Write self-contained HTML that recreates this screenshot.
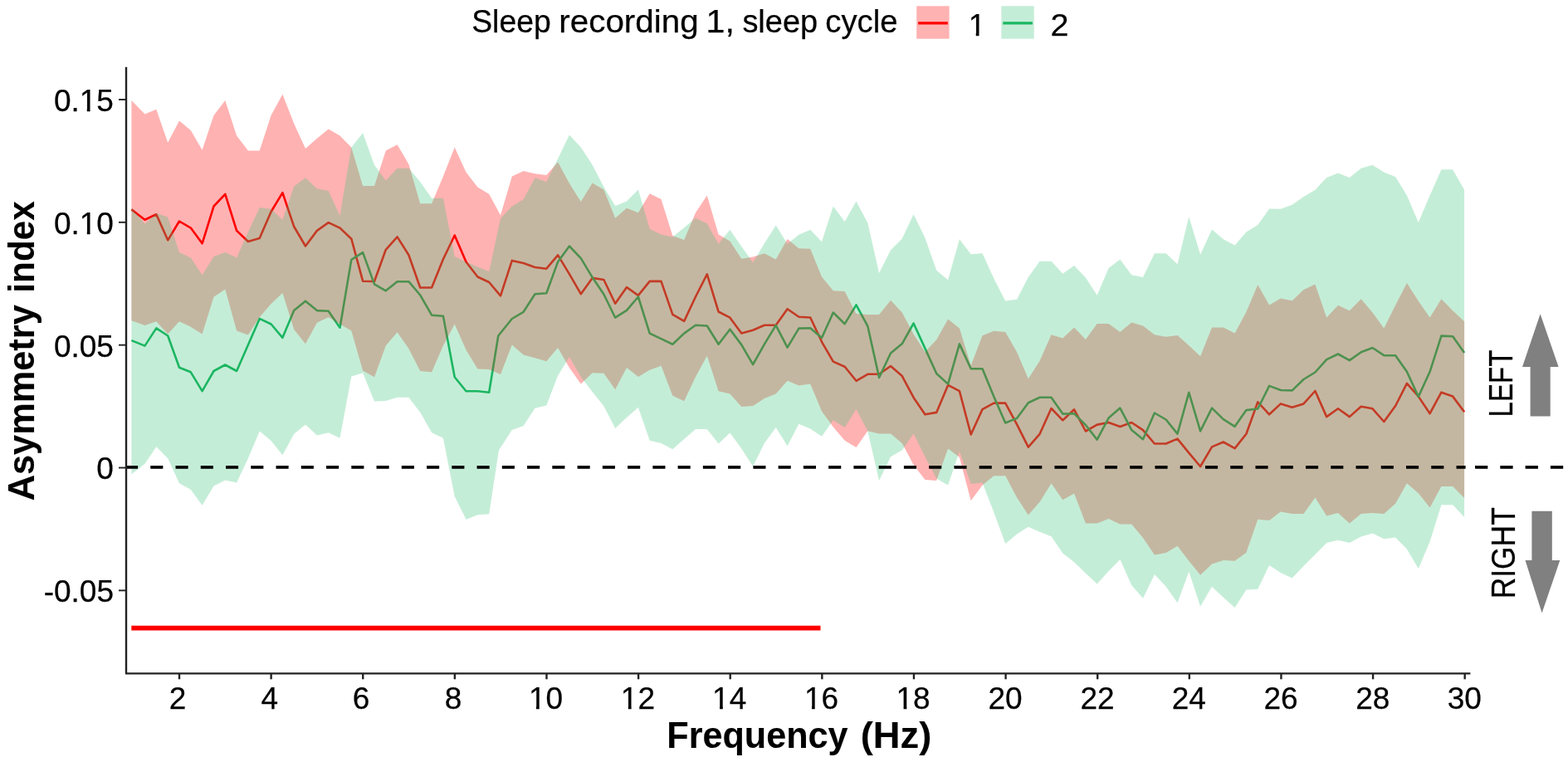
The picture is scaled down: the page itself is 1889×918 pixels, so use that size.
<!DOCTYPE html>
<html lang="en"><head><meta charset="utf-8"><title>Asymmetry index by frequency</title>
<style>html,body{margin:0;padding:0;background:#fff}body{width:1889px;height:918px;overflow:hidden}svg{display:block}text{font-family:"Liberation Sans",Arial,sans-serif;fill:#000;font-kerning:none;stroke:#000;stroke-width:.25px;stroke-linejoin:round}text[font-weight=bold]{stroke-width:.1px}</style></head><body>
<svg width="1889" height="918" viewBox="0 0 1889 918">
<rect width="1889" height="918" fill="#fff"/>
<defs><clipPath id="c1"><path d="M-10,-44.40H82.01V-3.03H-10ZM-10.00,-3.53H32.34V14.80H-10.00ZM39.89,-3.53H43.66V14.80H39.89ZM50.84,-3.53H82.01V14.80H50.84Z"/></clipPath><clipPath id="c2"><path d="M-10,-44.40H51.16V-3.03H-10ZM-10.00,-3.53H1.48V14.80H-10.00ZM9.03,-3.53H12.80V14.80H9.03ZM19.98,-3.53H51.16V14.80H19.98Z"/></clipPath><clipPath id="c3"><path d="M-10,-44.40H30.58V-3.03H-10ZM-10.00,-3.53H1.48V14.80H-10.00ZM9.03,-3.53H12.80V14.80H9.03ZM19.98,-3.53H30.58V14.80H19.98Z"/></clipPath></defs>
<g id="means" fill="none" stroke-linejoin="round" stroke-linecap="butt">
<polyline points="158.4,252.4 174.5,264.8 188.3,258.3 202.2,289.3 216.0,266.5 229.8,274.6 243.6,293.3 257.5,248.5 271.3,233.8 285.1,277.9 298.9,291.0 312.7,287.1 326.6,255.0 340.4,232.2 354.2,273.0 368.0,296.5 381.9,277.9 395.7,268.1 409.5,274.6 423.3,287.7 437.1,338.7 451.0,339.0 464.8,300.8 478.6,285.4 492.4,307.3 506.2,346.5 520.1,346.5 533.9,312.2 547.7,283.5 561.5,315.5 575.4,333.5 589.2,340.0 603.0,356.3 616.8,313.9 630.6,317.1 644.5,322.0 658.3,323.7 672.1,307.3 685.9,330.2 699.8,354.2 713.6,334.9 727.4,337.0 741.2,365.7 755.0,346.1 768.9,355.9 782.7,338.9 796.5,338.9 810.3,378.8 824.2,386.9 838.0,357.5 851.8,330.4 865.6,375.5 879.4,382.7 893.3,401.6 907.1,397.7 920.9,391.8 934.7,391.8 948.6,372.2 962.4,381.7 976.2,382.5 990.0,411.8 1003.8,435.6 1017.7,441.8 1031.5,458.8 1045.3,450.8 1059.1,450.8 1073.0,441.0 1086.8,453.1 1100.6,478.9 1114.4,499.3 1128.2,496.9 1142.1,463.9 1155.9,471.2 1169.7,523.5 1183.5,493.1 1197.3,485.6 1211.2,485.6 1225.0,511.1 1238.8,538.7 1252.6,522.8 1266.5,492.0 1280.3,506.4 1294.1,493.3 1307.9,519.5 1321.7,511.6 1335.6,509.0 1349.4,513.9 1363.2,509.0 1377.0,518.2 1390.9,534.5 1404.7,534.5 1418.5,528.6 1432.3,545.6 1446.1,562.0 1460.0,538.4 1473.8,532.5 1487.6,540.1 1501.4,522.7 1515.3,484.3 1529.1,499.3 1542.9,486.4 1556.7,490.7 1570.5,486.4 1584.4,471.0 1598.2,502.1 1612.0,492.3 1625.8,502.1 1639.7,489.7 1653.5,492.3 1667.3,508.0 1681.1,489.0 1694.9,461.9 1708.8,477.6 1722.6,498.2 1736.4,472.7 1750.2,477.6 1764.1,496.2" stroke="#ff0000" stroke-width="2.6"/>
<polyline points="158.4,410.1 174.5,416.6 188.3,395.4 202.2,404.5 216.0,442.7 229.8,448.3 243.6,471.2 257.5,447.0 271.3,439.5 285.1,447.0 298.9,415.6 312.7,383.9 326.6,390.5 340.4,406.8 354.2,374.1 368.0,362.7 381.9,374.1 395.7,374.8 409.5,394.7 423.3,312.9 437.1,304.1 451.0,342.4 464.8,350.3 478.6,339.2 492.4,339.2 506.2,355.5 520.1,379.7 533.9,380.7 547.7,454.2 561.5,471.2 575.4,471.2 589.2,472.8 600.3,404.5 616.8,384.0 630.6,375.8 644.5,354.3 658.3,353.3 672.1,315.4 685.9,296.5 699.8,311.2 713.6,334.1 727.4,354.5 741.2,382.7 755.0,373.9 768.9,357.5 782.7,401.6 796.5,408.2 810.3,414.7 824.2,401.6 838.0,391.8 851.8,392.5 865.6,414.7 879.4,396.7 893.3,415.4 907.1,439.2 920.9,414.7 934.7,391.8 948.6,418.6 962.4,395.6 976.2,395.3 990.0,407.0 1003.8,376.5 1017.7,390.2 1031.5,367.3 1045.3,392.8 1059.1,454.9 1073.0,425.5 1086.8,414.1 1100.6,389.5 1114.4,419.6 1128.2,450.0 1142.1,462.6 1155.9,414.4 1169.7,444.3 1183.5,444.3 1197.3,477.8 1211.2,509.5 1225.0,503.9 1238.8,485.3 1252.6,478.8 1266.5,478.8 1280.3,498.6 1294.1,498.3 1307.9,512.0 1321.7,529.6 1335.6,503.5 1349.4,491.6 1363.2,517.9 1377.0,529.2 1390.9,497.5 1404.7,505.5 1418.5,522.6 1432.3,472.8 1446.1,519.3 1460.0,491.6 1473.8,505.1 1487.6,513.8 1501.4,494.1 1515.3,492.5 1529.1,464.9 1542.9,470.0 1556.7,470.4 1570.5,457.0 1584.4,448.5 1598.2,433.1 1612.0,426.5 1625.8,434.1 1639.7,424.2 1653.5,419.0 1667.3,428.2 1681.1,428.2 1694.9,447.8 1708.8,477.9 1722.6,447.8 1736.4,404.6 1750.2,405.3 1764.1,424.9" stroke="#0eb158" stroke-width="2.6"/>
</g>
<g id="ribbons">
<polygon points="158.4,121.0 174.5,137.4 188.3,131.8 202.2,171.7 216.0,145.6 229.8,157.0 243.6,180.8 257.5,139.0 271.3,121.0 285.1,163.5 298.9,181.5 312.7,181.5 326.6,139.0 340.4,113.5 354.2,149.0 368.0,178.9 381.9,166.8 395.7,155.4 409.5,163.5 423.3,177.4 437.1,224.0 451.0,224.0 464.8,181.5 478.6,174.3 492.4,197.8 506.2,245.2 520.1,245.2 533.9,212.5 547.7,177.6 561.5,207.6 575.4,225.6 589.2,233.8 603.0,259.3 616.8,212.5 630.6,206.0 644.5,209.3 658.3,210.9 672.1,195.2 685.9,220.7 699.8,243.0 713.6,220.5 727.4,228.4 741.2,262.7 755.0,250.7 768.9,256.2 782.7,233.3 796.5,239.9 810.3,284.0 824.2,288.9 838.0,256.2 851.8,235.6 865.6,282.4 879.4,290.5 893.3,311.8 907.1,309.5 920.9,305.2 934.7,312.4 948.6,287.9 962.4,299.2 976.2,299.7 990.0,333.5 1003.8,350.3 1017.7,351.0 1031.5,378.1 1045.3,379.1 1059.1,379.1 1073.0,361.8 1086.8,376.5 1100.6,402.6 1114.4,423.9 1128.2,409.2 1142.1,384.6 1155.9,395.4 1169.7,440.2 1183.5,404.2 1197.3,398.7 1211.2,400.0 1225.0,423.9 1238.8,456.3 1252.6,434.8 1266.5,403.2 1280.3,407.5 1294.1,394.4 1307.9,409.1 1321.7,390.1 1335.6,390.1 1349.4,399.9 1363.2,388.5 1377.0,392.4 1390.9,403.2 1404.7,405.8 1418.5,403.9 1432.3,416.3 1446.1,429.3 1460.0,394.4 1473.8,394.4 1487.6,401.6 1501.4,375.7 1515.3,343.0 1529.1,367.5 1542.9,359.5 1556.7,362.2 1570.5,349.1 1584.4,342.5 1598.2,382.4 1612.0,367.7 1625.8,374.2 1639.7,360.2 1653.5,376.5 1667.3,395.5 1681.1,367.7 1694.9,340.9 1708.8,362.8 1722.6,382.4 1736.4,360.2 1750.2,374.2 1764.1,387.3 1764.1,600.1 1750.2,586.1 1736.4,586.1 1722.6,611.6 1708.8,594.2 1694.9,582.2 1681.1,606.7 1667.3,619.1 1653.5,618.1 1639.7,619.1 1625.8,630.5 1612.0,618.1 1598.2,621.4 1584.4,599.5 1570.5,619.1 1556.7,619.1 1542.9,616.5 1529.1,627.1 1515.3,625.7 1501.4,665.7 1487.6,675.7 1473.8,675.0 1460.0,679.6 1446.1,692.7 1432.3,675.7 1418.5,657.7 1404.7,665.9 1390.9,668.5 1377.0,647.9 1363.2,631.6 1349.4,631.6 1335.6,625.0 1321.7,630.6 1307.9,630.6 1294.1,594.6 1280.3,602.2 1266.5,582.5 1252.6,604.8 1238.8,620.4 1225.0,599.3 1211.2,573.2 1197.3,573.2 1183.5,584.6 1169.7,603.3 1155.9,551.0 1142.1,540.5 1128.2,579.1 1114.4,578.1 1100.6,560.1 1086.8,534.0 1073.0,522.5 1059.1,522.5 1045.3,519.3 1031.5,538.9 1017.7,530.7 1003.8,514.4 990.0,495.6 976.2,462.4 962.4,464.5 948.6,458.8 934.7,474.5 920.9,480.1 907.1,488.9 893.3,489.9 879.4,474.5 865.6,471.2 851.8,428.8 838.0,453.9 824.2,483.3 810.3,476.8 796.5,440.8 782.7,445.8 768.9,453.9 755.0,443.1 741.2,469.3 727.4,449.7 713.6,449.2 699.8,462.5 685.9,443.0 672.1,418.9 658.3,435.2 644.5,431.3 630.6,427.4 616.8,415.6 603.0,450.9 589.2,445.0 575.4,444.4 561.5,421.5 547.7,390.5 533.9,416.6 520.1,448.3 506.2,447.0 492.4,419.9 478.6,400.3 464.8,416.6 451.0,454.2 437.1,446.5 423.3,398.6 409.5,390.5 395.7,382.3 381.9,388.8 368.0,414.3 354.2,397.0 340.4,352.9 326.6,365.9 312.7,382.3 298.9,403.5 285.1,398.6 271.3,348.6 257.5,357.8 243.6,402.5 229.8,393.7 216.0,387.2 202.2,402.5 188.3,387.2 174.5,392.1 158.4,386.2" fill="#ff0000" fill-opacity="0.3"/>
<polygon points="158.4,250.1 174.5,269.7 188.3,256.7 202.2,261.6 216.0,304.1 229.8,310.6 243.6,331.2 257.5,309.0 271.3,304.1 285.1,310.6 298.9,279.5 312.7,250.1 326.6,251.8 340.4,264.8 354.2,224.5 368.0,214.2 381.9,227.3 395.7,229.9 409.5,259.9 423.3,177.4 437.1,160.3 451.0,198.7 464.8,217.5 478.6,202.7 492.4,202.7 506.2,219.1 520.1,238.7 533.9,238.7 547.7,309.0 561.5,315.5 575.4,321.4 589.2,326.9 603.0,263.2 616.8,248.5 630.6,240.3 644.5,214.2 658.3,219.1 672.1,191.3 685.9,162.5 699.8,177.5 713.6,198.4 727.4,225.2 741.2,248.0 755.0,242.5 768.9,228.4 782.7,275.8 796.5,282.4 810.3,285.6 824.2,274.2 838.0,262.7 851.8,269.3 865.6,293.8 879.4,276.8 893.3,297.1 907.1,316.2 920.9,293.3 934.7,271.6 948.6,293.8 962.4,282.8 976.2,276.8 990.0,291.3 1003.8,248.4 1017.7,267.0 1031.5,242.5 1045.3,268.6 1059.1,329.1 1073.0,301.3 1086.8,287.6 1100.6,258.2 1114.4,286.6 1128.2,325.8 1142.1,337.3 1155.9,288.2 1169.7,306.2 1183.5,305.2 1197.3,335.6 1211.2,362.4 1225.0,360.8 1238.8,334.0 1252.6,314.7 1266.5,314.7 1280.3,329.7 1294.1,319.9 1307.9,334.6 1321.7,355.8 1335.6,323.1 1349.4,312.4 1363.2,331.3 1377.0,333.9 1390.9,305.2 1404.7,305.2 1418.5,318.2 1432.3,261.0 1446.1,306.8 1460.0,276.4 1473.8,288.2 1487.6,295.4 1501.4,279.6 1515.3,271.1 1529.1,251.5 1542.9,251.7 1556.7,246.8 1570.5,237.0 1584.4,228.8 1598.2,214.1 1612.0,208.6 1625.8,214.1 1639.7,202.7 1653.5,198.8 1667.3,207.6 1681.1,213.1 1694.9,235.4 1708.8,268.0 1722.6,235.4 1736.4,204.3 1750.2,204.3 1764.1,228.8 1764.1,623.0 1750.2,608.3 1736.4,608.3 1722.6,652.4 1708.8,685.1 1694.9,661.6 1681.1,647.5 1667.3,649.2 1653.5,642.6 1639.7,646.5 1625.8,654.1 1612.0,650.8 1598.2,654.1 1584.4,668.1 1570.5,681.8 1556.7,696.5 1542.9,690.0 1529.1,680.9 1515.3,709.8 1501.4,710.6 1487.6,731.9 1473.8,719.8 1460.0,706.7 1446.1,730.6 1432.3,688.8 1418.5,726.3 1404.7,706.7 1390.9,692.0 1377.0,720.8 1363.2,705.1 1349.4,674.1 1335.6,688.1 1321.7,703.5 1307.9,690.4 1294.1,677.3 1280.3,666.5 1266.5,646.3 1252.6,640.8 1238.8,634.7 1225.0,643.5 1211.2,654.9 1197.3,617.3 1183.5,581.4 1169.7,583.0 1155.9,543.8 1142.1,584.6 1128.2,576.5 1114.4,550.3 1100.6,522.5 1086.8,542.2 1073.0,550.3 1059.1,579.1 1045.3,519.3 1031.5,493.1 1017.7,515.0 1003.8,506.2 990.0,525.8 976.2,516.5 962.4,510.8 948.6,537.3 934.7,515.0 920.9,534.0 907.1,561.8 893.3,540.5 879.4,521.6 865.6,534.6 851.8,517.0 838.0,517.0 824.2,529.1 810.3,541.2 796.5,534.0 782.7,530.7 768.9,490.8 755.0,502.9 741.2,516.0 727.4,489.2 713.6,472.0 699.8,454.1 685.9,430.0 672.1,452.5 658.3,488.5 644.5,491.8 630.6,513.0 616.8,517.9 600.9,542.4 589.2,619.2 575.4,620.2 561.5,625.8 547.7,598.0 533.9,527.7 520.1,521.2 506.2,496.7 492.4,478.7 478.6,478.7 464.8,482.9 451.0,483.6 437.1,449.3 423.3,453.5 409.5,527.7 395.7,521.2 381.9,524.4 368.0,511.4 354.2,522.8 340.4,548.3 326.6,531.0 312.7,519.5 298.9,552.2 285.1,581.6 271.3,578.4 257.5,585.6 243.6,608.8 229.8,589.8 216.0,582.3 202.2,552.2 188.3,538.2 174.5,558.8 158.4,571.2" fill="#3cc47c" fill-opacity="0.3"/>
</g>
<line x1="151.0" y1="562.8" x2="1765.6" y2="562.8" stroke="#000" stroke-width="3.7" stroke-dasharray="15.1 15.155"/>
<line x1="1777.0" y1="562.8" x2="1884" y2="562.8" stroke="#000" stroke-width="3.7" stroke-dasharray="15.3 15.0"/>
<line x1="158.3" y1="756.6" x2="988.5" y2="756.6" stroke="#ff0000" stroke-width="5.6"/>
<g id="axes" stroke="#222222" stroke-width="2.4" fill="none">
<polyline points="152.0,80.7 152.0,811.4 1771.4,811.4" stroke-linejoin="round"/>
<line x1="143" y1="119.96" x2="152.0" y2="119.96" stroke-width="1.9"/>
<line x1="143" y1="267.81" x2="152.0" y2="267.81" stroke-width="1.9"/>
<line x1="143" y1="415.66" x2="152.0" y2="415.66" stroke-width="1.9"/>
<line x1="143" y1="563.51" x2="152.0" y2="563.51" stroke-width="1.9"/>
<line x1="143" y1="711.36" x2="152.0" y2="711.36" stroke-width="1.9"/>
<line x1="216.00" y1="811.4" x2="216.00" y2="818.3"/>
<line x1="326.62" y1="811.4" x2="326.62" y2="818.3"/>
<line x1="437.24" y1="811.4" x2="437.24" y2="818.3"/>
<line x1="547.86" y1="811.4" x2="547.86" y2="818.3"/>
<line x1="658.48" y1="811.4" x2="658.48" y2="818.3"/>
<line x1="769.10" y1="811.4" x2="769.10" y2="818.3"/>
<line x1="879.72" y1="811.4" x2="879.72" y2="818.3"/>
<line x1="990.34" y1="811.4" x2="990.34" y2="818.3"/>
<line x1="1100.96" y1="811.4" x2="1100.96" y2="818.3"/>
<line x1="1211.58" y1="811.4" x2="1211.58" y2="818.3"/>
<line x1="1322.20" y1="811.4" x2="1322.20" y2="818.3"/>
<line x1="1432.82" y1="811.4" x2="1432.82" y2="818.3"/>
<line x1="1543.44" y1="811.4" x2="1543.44" y2="818.3"/>
<line x1="1654.06" y1="811.4" x2="1654.06" y2="818.3"/>
<line x1="1764.68" y1="811.4" x2="1764.68" y2="818.3"/>
</g>
<g id="ticklabels">
<text transform="translate(64.90 133.86)" font-size="37" clip-path="url(#c1)">0.15</text>
<text transform="translate(64.90 281.71)" font-size="37" clip-path="url(#c1)">0.10</text>
<text transform="translate(64.90 429.56)" font-size="37">0.05</text>
<text transform="translate(116.15 577.41)" font-size="37">0</text>
<text transform="translate(52.65 725.26)" font-size="37">-0.05</text>
<text transform="translate(203.85 854.0)" font-size="37">2</text>
<text transform="translate(314.60 854.0)" font-size="37">4</text>
<text transform="translate(424.84 854.0)" font-size="37">6</text>
<text transform="translate(535.71 854.0)" font-size="37">8</text>
<text transform="translate(636.93 854.0)" font-size="37" clip-path="url(#c2)">10</text>
<text transform="translate(747.80 854.0)" font-size="37" clip-path="url(#c2)">12</text>
<text transform="translate(858.05 854.0)" font-size="37" clip-path="url(#c2)">14</text>
<text transform="translate(968.92 854.0)" font-size="37" clip-path="url(#c2)">16</text>
<text transform="translate(1079.54 854.0)" font-size="37" clip-path="url(#c2)">18</text>
<text transform="translate(1190.53 854.0)" font-size="37">20</text>
<text transform="translate(1301.40 854.0)" font-size="37">22</text>
<text transform="translate(1411.65 854.0)" font-size="37">24</text>
<text transform="translate(1522.52 854.0)" font-size="37">26</text>
<text transform="translate(1633.13 854.0)" font-size="37">28</text>
<text transform="translate(1743.76 854.0)" font-size="37">30</text>
</g>
<g id="titles">
<text y="901.40" font-size="45" font-weight="bold"><tspan x="803.32" textLength="218.19" lengthAdjust="spacingAndGlyphs">Frequency</tspan> <tspan x="1036.74" textLength="85.50" lengthAdjust="spacingAndGlyphs">(Hz)</tspan></text>
<text transform="translate(41.40 0) rotate(-90)" y="0" font-size="45" font-weight="bold"><tspan x="-603.30" textLength="236.08" lengthAdjust="spacingAndGlyphs">Asymmetry</tspan> <tspan x="-352.65" textLength="110.36" lengthAdjust="spacingAndGlyphs">index</tspan></text>
</g>
<g id="legend">
<text y="38.70" font-size="39"><tspan x="568.23" textLength="95.45" lengthAdjust="spacingAndGlyphs">Sleep</tspan> <tspan x="673.31" textLength="168.37" lengthAdjust="spacingAndGlyphs">recording</tspan> <tspan x="850.53" textLength="34.41" lengthAdjust="spacingAndGlyphs">1,</tspan> <tspan x="894.38" textLength="90.81" lengthAdjust="spacingAndGlyphs">sleep</tspan> <tspan x="994.28" textLength="87.20" lengthAdjust="spacingAndGlyphs">cycle</tspan></text>
<line x1="1106.2" y1="27.9" x2="1141.8" y2="27.9" stroke="#ff0000" stroke-width="3.4"/>
<rect x="1104.2" y="7.3" width="39.4" height="39.4" fill="#ff0000" fill-opacity="0.3"/>
<text transform="translate(1166.70 43.0)" font-size="37" clip-path="url(#c3)">1</text>
<line x1="1208.3" y1="27.9" x2="1243.9" y2="27.9" stroke="#0eb158" stroke-width="3.4"/>
<rect x="1206.3" y="7.3" width="39.4" height="39.4" fill="#3cc47c" fill-opacity="0.3"/>
<text y="43.10" font-size="37"><tspan x="1265.63" textLength="22.03" lengthAdjust="spacingAndGlyphs">2</tspan></text>
</g>
<g id="annotations">
<text transform="translate(1822.20 0) rotate(-90)" y="0" font-size="40"><tspan x="-502.49" textLength="80.95" lengthAdjust="spacingAndGlyphs">LEFT</tspan></text>
<text transform="translate(1824.60 0) rotate(-90)" y="0" font-size="40"><tspan x="-721.27" textLength="110.00" lengthAdjust="spacingAndGlyphs">RIGHT</tspan></text>
<polygon points="1855.6,378.3 1877.6,441.9 1867.7,441.9 1867.7,501.5 1843.6,501.5 1843.6,441.9 1834,441.9" fill="#808080"/>
<polygon points="1845.4,615.8 1869.8,615.8 1869.8,674.9 1879.3,674.9 1857.6,738.5 1837.5,674.9 1845.4,674.9" fill="#808080"/>
</g>
</svg></body></html>
